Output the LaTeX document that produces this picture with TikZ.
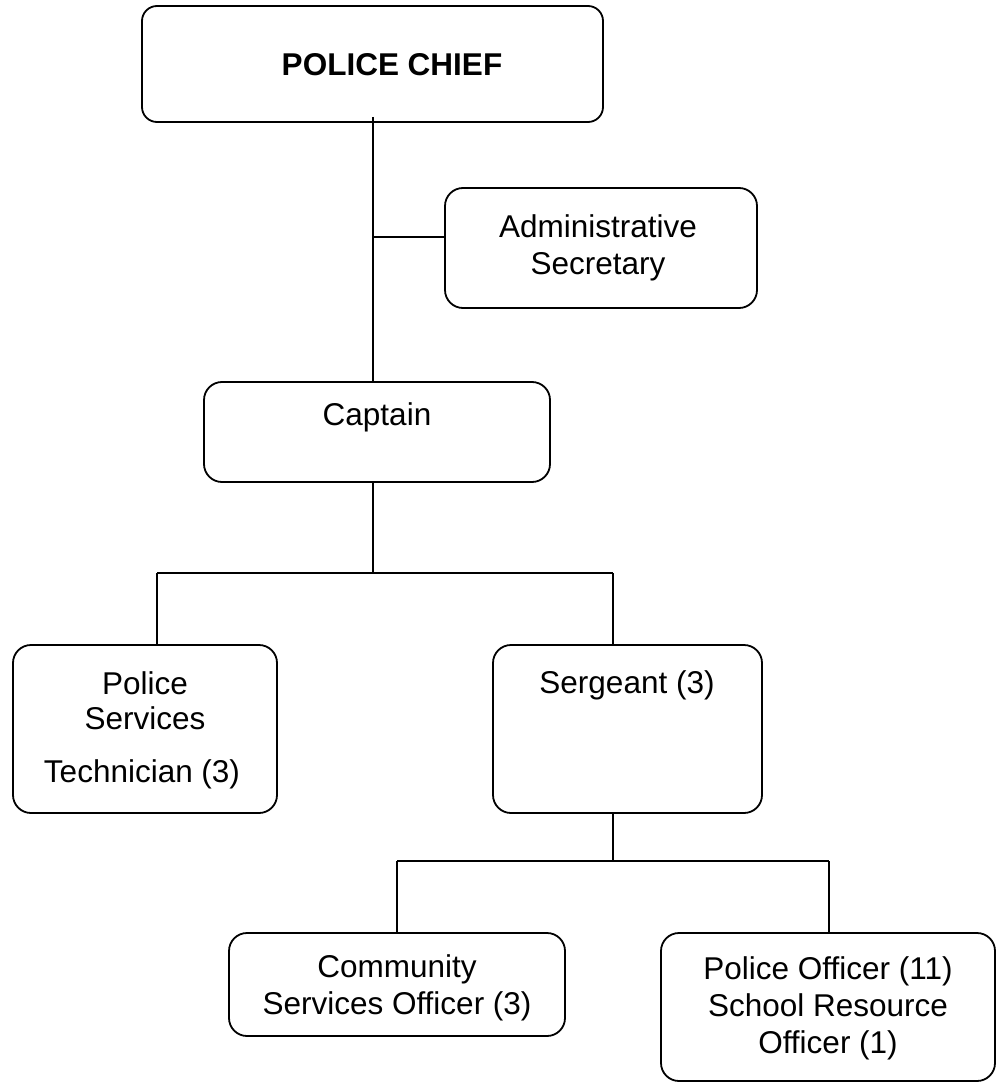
\documentclass[tikz,border=0pt]{standalone}
\usepackage{fontspec}
\setmainfont{Liberation Sans}
\begin{document}
\begin{tikzpicture}[x=1pt,y=-1pt,
  box/.style={draw=black,line width=1.8pt,rounded corners=18pt,fill=white,inner sep=0pt},
  wire/.style={draw=black,line width=1.8pt},
  txt/.style={anchor=base,inner sep=0pt,font=\fontsize{31.5pt}{37pt}\selectfont},
  bold/.style={txt,font=\fontsize{31.5pt}{37pt}\selectfont\bfseries}]
\useasboundingbox (0,0) rectangle (997,1083);

% boxes
\node[box,rounded corners=15pt,minimum width=461pt,minimum height=116pt] (chief) at (372.5,64) {};
\node[box,minimum width=312pt,minimum height=120pt] (admin) at (601,248) {};
\node[box,minimum width=346pt,minimum height=100pt] (captain) at (377,432) {};
\node[box,minimum width=264pt,minimum height=168pt] (pst) at (145,729) {};
\node[box,minimum width=269pt,minimum height=168pt] (sgt) at (627.5,729) {};
\node[box,minimum width=336pt,minimum height=103pt] (cso) at (397,984.5) {};
\node[box,minimum width=334pt,minimum height=148pt] (po) at (828,1007) {};

% labels
\node[bold] (chiefT) at (392,76) {POLICE CHIEF};
\node[txt] (adminT1) at (598,237) {Administrative};
\node[txt] (adminT2) at (598,274) {Secretary};
\node[txt] (captainT) at (377,425) {Captain};
\node[txt] (pstT1) at (145,694) {Police};
\node[txt] (pstT2) at (145,729) {Services};
\node[txt] (pstT3) at (142,782) {Technician (3)};
\node[txt] (sgtT) at (627,693) {Sergeant (3)};
\node[txt] (csoT1) at (397,977) {Community};
\node[txt] (csoT2) at (397,1014) {Services Officer (3)};
\node[txt] (poT1) at (828,979) {Police Officer (11)};
\node[txt] (poT2) at (828,1016) {School Resource};
\node[txt] (poT3) at (828,1053) {Officer (1)};

% junction points
\coordinate (top) at (373,117);
\coordinate (adm) at (373,237);
\coordinate (capDown) at (373,482);
\coordinate (busA) at (373,573);
\coordinate (busAL) at (157,573);
\coordinate (busAR) at (613,573);
\coordinate (sgtDown) at (613,813);
\coordinate (busB) at (613,861);
\coordinate (busBL) at (397,861);
\coordinate (busBR) at (829,861);

% connectors
\draw[wire] (top) -- (top |- captain.north);
\draw[wire] (adm) -- (adm -| admin.west);
\draw[wire] (capDown) -- (busA);
\draw[wire] (busAL) -- (busAR);
\draw[wire] (busAL) -- (busAL |- pst.north);
\draw[wire] (busAR) -- (busAR |- sgt.north);
\draw[wire] (sgtDown) -- (busB);
\draw[wire] (busBL) -- (busBR);
\draw[wire] (busBL) -- (busBL |- cso.north);
\draw[wire] (busBR) -- (busBR |- po.north);
\end{tikzpicture}
\end{document}
